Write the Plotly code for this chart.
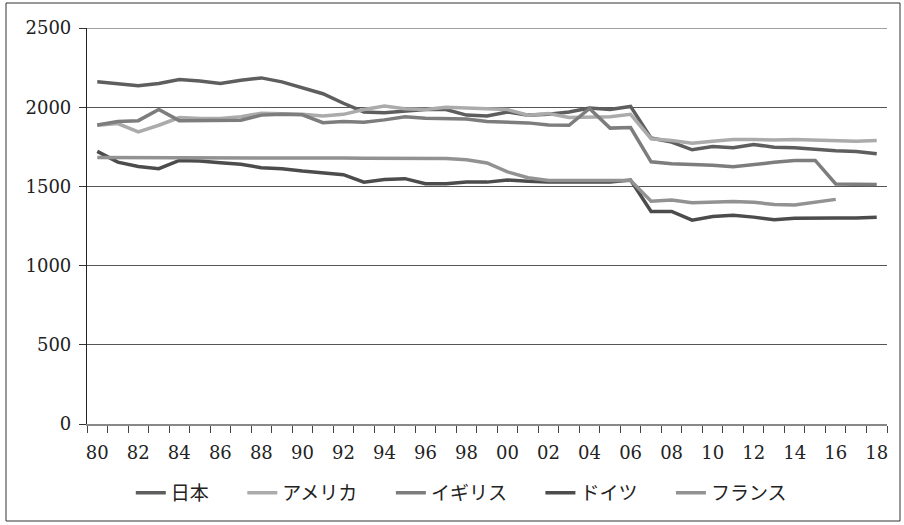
import plotly.graph_objects as go

years = list(range(1980, 2019))
tick_years = list(range(1980, 2019, 2))
tick_labels = [f"{y % 100:02d}" for y in tick_years]

japan = [2160, 2145, 2135, 2150, 2175, 2165, 2150, 2170, 2185, 2160,
         2125, 2085, 2025, 1970, 1965, 1975, 1985, 1985, 1950, 1945,
         1970, 1950, 1955, 1970, 1995, 1985, 2005, 1805, 1780, 1731,
         1752, 1744, 1765, 1747, 1744, 1735, 1725, 1721, 1706]
usa = [1886, 1897, 1844, 1886, 1935, 1928, 1928, 1940, 1962, 1960,
       1955, 1945, 1955, 1985, 2008, 1990, 1985, 2000, 1995, 1995,
       1985, 1950, 1960, 1935, 1937, 1940, 1955, 1801, 1790, 1773,
       1785, 1796, 1796, 1793, 1796, 1793, 1790, 1785, 1790]
uk = [1888, 1910, 1915, 1985, 1915, 1915, 1915, 1918, 1950, 1955,
      1952, 1902, 1909, 1905, 1920, 1939, 1930, 1930, 1925, 1910,
      1903, 1901, 1888, 1886, 1992, 1868, 1872, 1655, 1643, 1640,
      1634, 1624, 1640, 1652, 1664, 1664, 1515, 1512, 1512]
germany = [1721, 1653, 1626, 1612, 1664, 1660, 1650, 1640, 1618, 1612,
           1597, 1584, 1574, 1527, 1543, 1549, 1517, 1517, 1527, 1527,
           1540, 1533, 1527, 1527, 1527, 1528, 1540, 1342, 1342, 1287,
           1310, 1318, 1306, 1290, 1299, 1302, 1300, 1300, 1306]
france = [1682, 1681, 1680, 1679, 1678, 1680, 1679, 1678, 1679, 1680,
          1681, 1680, 1679, 1678, 1677, 1678, 1677, 1676, 1668, 1648,
          1592, 1555, 1538, 1538, 1538, 1538, 1538, 1407, 1414, 1397,
          1400, 1404, 1400, 1386, 1383, 1398, 1418, None, None]

series_names = ["日本", "アメリカ", "イギリス", "ドイツ", "フランス"]
series_values = [japan, usa, uk, germany, france]
series_colors = ["#5e5e5e", "#ababab", "#7d7d7d", "#4c4c4c", "#929292"]

fig = go.Figure()
for name, vals, color in zip(series_names, series_values, series_colors):
    fig.add_trace(go.Scatter(x=years, y=vals, name=name + "\u3000\u2002",
                             mode="lines",
                             line=dict(color=color, width=3.5),
                             connectgaps=False))

serif = "'DejaVu Serif', 'Liberation Serif', serif"
fig.update_layout(
    width=904, height=525,
    margin=dict(l=87, r=17, t=28, b=101),
    paper_bgcolor="white", plot_bgcolor="white",
    showlegend=True,
    legend=dict(orientation="h", x=0.486, xanchor="center", y=-0.174,
                yanchor="middle",
                font=dict(family="'Noto Sans CJK JP', sans-serif", size=19,
                          color="#222"),
                itemwidth=30, traceorder="normal"),
    xaxis=dict(range=[1979.5, 2018.5], tickmode="array", tickvals=tick_years,
               ticktext=tick_labels, ticks="", showgrid=False,
               showline=True, linecolor="#888", linewidth=1.5,
               ticklabelstandoff=12, zeroline=False,
               tickfont=dict(family=serif, size=18, color="#222"),
               minor=dict(tickmode="linear", tick0=1979.5, dtick=1,
                          ticks="outside", ticklen=7, tickcolor="#444",
                          showgrid=False)),
    yaxis=dict(range=[0, 2500], tickmode="linear", tick0=0, dtick=500,
               ticks="outside", ticklen=7, tickcolor="#333",
               showgrid=True, gridcolor="#555", gridwidth=1,
               showline=True, linecolor="#222", linewidth=1.2,
               zeroline=False, ticklabelstandoff=4,
               tickfont=dict(family=serif, size=18, color="#222")),
)

fig.add_shape(type="line", xref="paper", yref="y", x0=0, x1=1, y0=2500, y1=2500,
              line=dict(color="#444", width=1))
fig.add_shape(type="rect", xref="paper", yref="paper",
              x0=(6 - 87) / 800, x1=(900 - 87) / 800,
              y0=(424 - 521) / 396, y1=(424 - 3) / 396,
              line=dict(color="#333", width=1), layer="below")

fig.write_html("out.html", config={"displayModeBar": False},
               post_script="document.body.style.margin='0';")
